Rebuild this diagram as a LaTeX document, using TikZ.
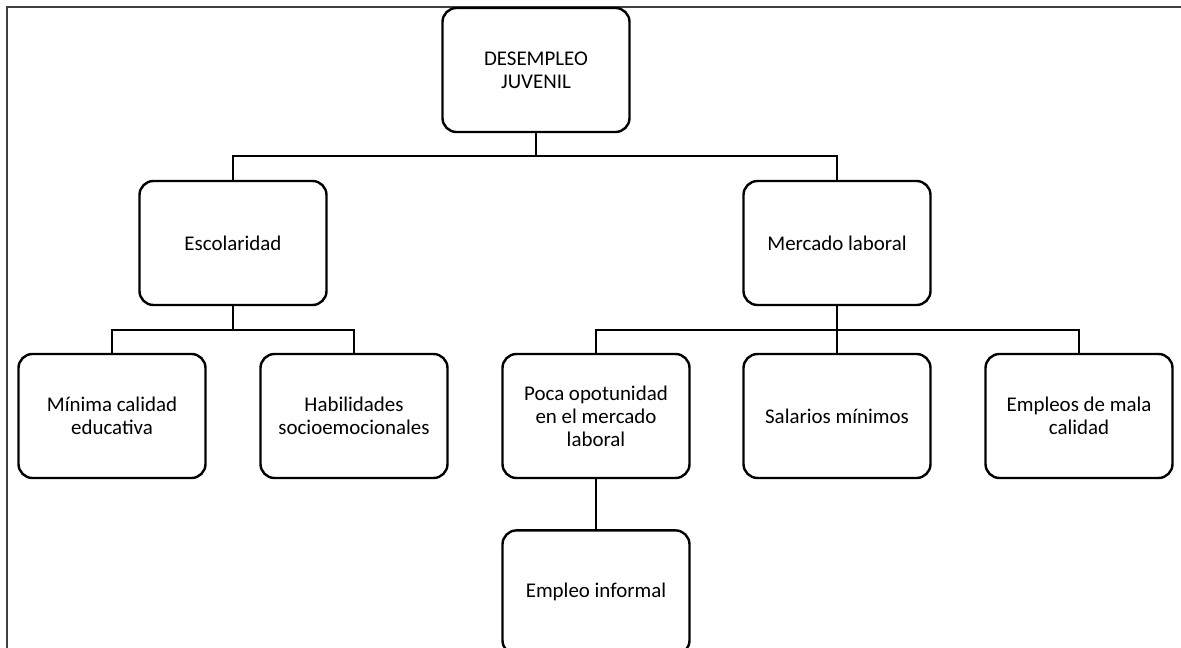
\documentclass[tikz,border=0pt]{standalone}
\usepackage{fontspec}
\setmainfont{Carlito}
\usetikzlibrary{positioning}

\begin{document}
\begin{tikzpicture}[
  x=1bp,y=-1bp,
  box/.style={draw,line width=2.4bp,rounded corners=14bp,minimum width=187bp,minimum height=124bp,
    align=center,font=\fontsize{21}{23}\selectfont},
  link/.style={line width=2.4bp}
]
  \useasboundingbox (0,0) rectangle (1181,648);
  \draw[black!75,line width=1.2bp] (7,648) -- (7,7) -- (1181,7);

  \node[box] (top) at (536,70) {DESEMPLEO\\JUVENIL};
  \node[box] (esc) at (233,243) {Escolaridad};
  \node[box] (merc) at (837,243) {Mercado laboral};
  \node[box] (minima) at (112,416) {M\'inima calidad\\educativa};
  \node[box] (habil) at (354,416) {Habilidades\\socioemocionales};
  \node[box] (poca) at (596,416) {Poca opotunidad\\en el mercado\\laboral};
  \node[box] (salar) at (837,416) {Salarios m\'inimos};
  \node[box] (mala) at (1079,416) {Empleos de mala\\calidad};
  \node[box,below=50bp of poca] (inform) {Empleo informal};

  % buses
  \coordinate (bus0) at (536,156);
  \coordinate (bus1) at (233,330);
  \coordinate (bus2) at (837,330);

  \draw[link] (top) -- (bus0);
  \draw[link] (esc.north) |- (bus0) -| (merc.north);
  \draw[link] (esc) -- (bus1);
  \draw[link] (minima.north) |- (bus1) -| (habil.north);
  \draw[link] (merc) -- (bus2);
  \draw[link] (poca.north) |- (bus2) -| (mala.north);
  \draw[link] (bus2) -- (salar);
  \draw[link] (poca) -- (inform);
\end{tikzpicture}
\end{document}
